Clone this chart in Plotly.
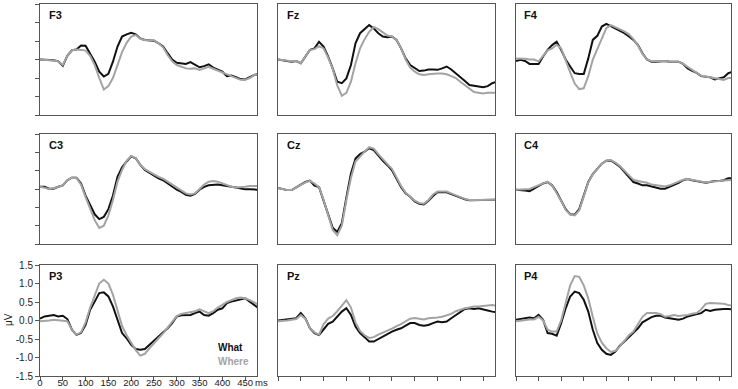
import plotly.graph_objects as go

t = list(range(0, 481, 10))

f3_what = [0.0, 0.0, 0.0, -0.02, -0.05, -0.17, 0.1, 0.25, 0.27, 0.38, 0.37, 0.17, -0.06, -0.33, -0.46, -0.39, -0.06, 0.35, 0.62, 0.68, 0.72, 0.68, 0.57, 0.53, 0.53, 0.51, 0.44, 0.35, 0.17, 0.0, -0.09, -0.1, -0.12, -0.07, -0.15, -0.21, -0.18, -0.13, -0.22, -0.28, -0.33, -0.45, -0.43, -0.48, -0.53, -0.54, -0.48, -0.42, -0.39]
f3_where = [0.0, 0.0, -0.02, -0.03, -0.05, -0.15, 0.1, 0.25, 0.27, 0.26, 0.24, 0.1, -0.15, -0.5, -0.81, -0.72, -0.5, -0.15, 0.2, 0.45, 0.62, 0.66, 0.56, 0.53, 0.53, 0.52, 0.44, 0.33, 0.12, -0.05, -0.15, -0.2, -0.24, -0.25, -0.24, -0.28, -0.24, -0.2, -0.25, -0.3, -0.34, -0.4, -0.44, -0.49, -0.55, -0.55, -0.5, -0.42, -0.4]

fz_what = [0.0, -0.01, -0.04, -0.06, -0.04, -0.1, 0.08, 0.26, 0.3, 0.48, 0.35, 0.08, -0.24, -0.6, -0.64, -0.51, -0.15, 0.44, 0.71, 0.82, 0.93, 0.84, 0.71, 0.62, 0.6, 0.62, 0.53, 0.3, 0.03, -0.15, -0.24, -0.31, -0.3, -0.27, -0.27, -0.28, -0.24, -0.19, -0.27, -0.37, -0.46, -0.58, -0.69, -0.72, -0.73, -0.75, -0.72, -0.64, -0.6]
fz_where = [0.0, -0.02, -0.04, -0.05, -0.04, -0.1, 0.08, 0.26, 0.28, 0.36, 0.3, 0.05, -0.25, -0.7, -0.98, -0.9, -0.6, -0.1, 0.3, 0.55, 0.75, 0.88, 0.82, 0.73, 0.65, 0.62, 0.53, 0.3, 0.0, -0.22, -0.33, -0.4, -0.42, -0.4, -0.38, -0.38, -0.38, -0.4, -0.45, -0.5, -0.6, -0.7, -0.8, -0.88, -0.9, -0.92, -0.9, -0.9, -0.9]

f4_what = [-0.04, -0.01, -0.04, -0.12, -0.12, -0.12, 0.08, 0.26, 0.39, 0.48, 0.26, 0.0, -0.19, -0.37, -0.39, -0.39, 0.03, 0.53, 0.64, 0.89, 0.96, 0.9, 0.84, 0.78, 0.71, 0.62, 0.53, 0.39, 0.17, 0.0, -0.06, -0.06, -0.04, -0.04, -0.06, -0.06, -0.06, -0.12, -0.24, -0.31, -0.36, -0.45, -0.46, -0.48, -0.54, -0.51, -0.48, -0.37, -0.33]
f4_where = [0.03, 0.03, 0.02, 0.0, 0.0, -0.05, 0.1, 0.25, 0.3, 0.4, 0.3, -0.05, -0.35, -0.65, -0.8, -0.78, -0.45, 0.0, 0.3, 0.6, 0.85, 0.93, 0.88, 0.82, 0.76, 0.68, 0.55, 0.38, 0.15, 0.0, -0.05, -0.05, -0.04, -0.04, -0.06, -0.06, -0.06, -0.12, -0.2, -0.3, -0.38, -0.44, -0.46, -0.48, -0.5, -0.53, -0.55, -0.5, -0.5]

c3_what = [0.06, 0.06, 0.01, 0.01, 0.06, 0.1, 0.24, 0.31, 0.31, 0.15, -0.18, -0.45, -0.69, -0.82, -0.76, -0.55, -0.18, 0.33, 0.59, 0.75, 0.89, 0.84, 0.66, 0.52, 0.44, 0.38, 0.29, 0.24, 0.15, 0.06, -0.02, -0.08, -0.16, -0.18, -0.13, -0.02, 0.06, 0.1, 0.12, 0.12, 0.1, 0.07, 0.06, 0.04, 0.01, -0.01, -0.01, -0.02, -0.02]
c3_where = [0.06, 0.04, 0.0, 0.02, 0.06, 0.1, 0.24, 0.31, 0.3, 0.12, -0.22, -0.55, -0.85, -1.06, -1.0, -0.72, -0.3, 0.2, 0.52, 0.77, 0.9, 0.84, 0.66, 0.54, 0.46, 0.4, 0.33, 0.28, 0.2, 0.12, 0.05, -0.04, -0.12, -0.15, -0.12, 0.0, 0.12, 0.2, 0.22, 0.2, 0.15, 0.1, 0.06, 0.04, 0.04, 0.06, 0.08, 0.08, 0.08]

cz_what = [0.03, 0.0, -0.03, -0.03, 0.05, 0.11, 0.19, 0.23, 0.09, 0.05, -0.32, -0.74, -1.06, -1.17, -0.93, -0.23, 0.42, 0.83, 0.95, 1.02, 1.11, 1.06, 0.9, 0.77, 0.65, 0.51, 0.28, 0.05, -0.12, -0.21, -0.34, -0.4, -0.42, -0.32, -0.19, -0.09, -0.09, -0.09, -0.14, -0.19, -0.23, -0.28, -0.31, -0.31, -0.31, -0.31, -0.31, -0.29, -0.29]
cz_where = [0.03, 0.0, -0.03, -0.03, 0.05, 0.11, 0.18, 0.22, 0.15, 0.05, -0.3, -0.7, -1.12, -1.26, -1.0, -0.3, 0.3, 0.75, 0.9, 1.02, 1.14, 1.1, 0.95, 0.8, 0.68, 0.55, 0.32, 0.08, -0.1, -0.2, -0.32, -0.38, -0.4, -0.3, -0.15, -0.07, -0.06, -0.07, -0.12, -0.18, -0.22, -0.27, -0.3, -0.3, -0.3, -0.3, -0.3, -0.29, -0.29]

c4_what = [-0.02, -0.02, -0.04, -0.06, 0.01, 0.1, 0.15, 0.19, 0.1, -0.08, -0.31, -0.55, -0.69, -0.7, -0.55, -0.18, 0.19, 0.41, 0.56, 0.69, 0.77, 0.78, 0.7, 0.61, 0.47, 0.33, 0.19, 0.15, 0.1, 0.1, 0.07, 0.03, 0.01, 0.01, 0.06, 0.13, 0.17, 0.24, 0.27, 0.24, 0.22, 0.19, 0.17, 0.19, 0.22, 0.22, 0.24, 0.29, 0.29]
c4_where = [-0.02, -0.02, -0.01, 0.0, 0.05, 0.1, 0.15, 0.2, 0.1, -0.1, -0.33, -0.57, -0.7, -0.72, -0.58, -0.2, 0.18, 0.4, 0.56, 0.69, 0.77, 0.79, 0.72, 0.63, 0.5, 0.36, 0.25, 0.22, 0.2, 0.17, 0.12, 0.1, 0.08, 0.07, 0.1, 0.15, 0.2, 0.25, 0.27, 0.25, 0.23, 0.2, 0.18, 0.2, 0.22, 0.22, 0.23, 0.25, 0.25]

p3_what = [0.05, 0.11, 0.13, 0.15, 0.11, 0.13, 0.04, -0.25, -0.39, -0.34, -0.12, 0.29, 0.51, 0.74, 0.76, 0.65, 0.38, 0.02, -0.34, -0.48, -0.66, -0.77, -0.79, -0.77, -0.66, -0.54, -0.45, -0.34, -0.21, -0.07, 0.11, 0.14, 0.14, 0.15, 0.2, 0.24, 0.15, 0.13, 0.2, 0.29, 0.33, 0.47, 0.51, 0.54, 0.58, 0.6, 0.51, 0.42, 0.33]
p3_where = [-0.02, -0.02, 0.0, 0.02, 0.0, 0.0, -0.02, -0.25, -0.38, -0.32, -0.05, 0.35, 0.7, 1.0, 1.1, 1.0, 0.7, 0.25, -0.15, -0.4, -0.6, -0.8, -0.95, -0.9, -0.75, -0.6, -0.48, -0.35, -0.2, -0.05, 0.12, 0.18, 0.2, 0.22, 0.25, 0.3, 0.25, 0.2, 0.25, 0.35, 0.42, 0.5, 0.55, 0.6, 0.62, 0.6, 0.55, 0.48, 0.42]

pz_what = [0.0, 0.02, 0.02, 0.04, 0.06, 0.2, 0.06, -0.21, -0.34, -0.39, -0.23, -0.09, -0.03, 0.11, 0.24, 0.33, 0.15, -0.16, -0.34, -0.45, -0.57, -0.57, -0.5, -0.45, -0.36, -0.3, -0.25, -0.21, -0.14, -0.07, -0.07, -0.12, -0.14, -0.12, -0.07, -0.03, -0.05, -0.03, 0.06, 0.15, 0.24, 0.31, 0.33, 0.31, 0.33, 0.29, 0.27, 0.24, 0.22]
pz_where = [-0.02, -0.02, 0.0, 0.02, 0.04, 0.15, 0.05, -0.2, -0.32, -0.38, -0.1, 0.05, 0.12, 0.25, 0.4, 0.55, 0.35, -0.05, -0.28, -0.4, -0.47, -0.45, -0.38, -0.33, -0.27, -0.22, -0.15, -0.1, -0.02, 0.05, 0.07, 0.04, 0.03, 0.06, 0.06, 0.08, 0.1, 0.13, 0.18, 0.25, 0.3, 0.33, 0.35, 0.38, 0.38, 0.4, 0.42, 0.42, 0.4]

p4_what = [0.02, 0.04, 0.06, 0.08, 0.06, 0.15, 0.02, -0.34, -0.36, -0.41, -0.07, 0.33, 0.65, 0.78, 0.74, 0.56, 0.24, -0.25, -0.61, -0.79, -0.9, -0.93, -0.84, -0.68, -0.57, -0.45, -0.34, -0.21, -0.05, 0.02, 0.09, 0.13, 0.13, 0.08, 0.06, 0.04, 0.02, 0.05, 0.11, 0.14, 0.18, 0.2, 0.29, 0.26, 0.29, 0.31, 0.31, 0.31, 0.3]
p4_where = [-0.02, 0.0, 0.02, 0.03, 0.03, 0.1, 0.0, -0.25, -0.3, -0.3, 0.0, 0.5, 0.95, 1.2, 1.18, 0.95, 0.6, 0.1, -0.35, -0.6, -0.75, -0.85, -0.82, -0.7, -0.55, -0.4, -0.3, -0.1, 0.1, 0.2, 0.2, 0.2, 0.17, 0.1, 0.12, 0.15, 0.12, 0.13, 0.15, 0.18, 0.2, 0.3, 0.45, 0.47, 0.47, 0.47, 0.45, 0.42, 0.4]

panel_names = ["F3", "Fz", "F4", "C3", "Cz", "C4", "P3", "Pz", "P4"]
what_series = [f3_what, fz_what, f4_what, c3_what, cz_what, c4_what, p3_what, pz_what, p4_what]
where_series = [f3_where, fz_where, f4_where, c3_where, cz_where, c4_where, p3_where, pz_where, p4_where]

x_tickvals = [0, 50, 100, 150, 200, 250, 300, 350, 400, 450]
x_ticktext = ["0", "50", "100", "150", "200", "250", "300", "350", "400", "450"]
x_unit = "ms"
y_tickvals = [-1.5, -1.0, -0.5, 0.0, 0.5, 1.0, 1.5]
y_ticktext = ["-1.5", "-1.0", "-0.5", "0.0", "0.5", "1.0", "1.5"]

W, H = 738, 389
col_px = [(40, 257), (278, 495), (516, 731)]
row_px = [(4, 115), (134, 244), (265, 376)]

BLACK = "#111111"
GRAY = "#a3a3a3"
FONT = "Liberation Sans, Arial, sans-serif"
TXT = "#222222"

fig = go.Figure()
layout = dict(
    width=W, height=H, margin=dict(l=0, r=0, t=0, b=0, autoexpand=False),
    paper_bgcolor="white", plot_bgcolor="white", showlegend=False,
    font=dict(family=FONT, size=10, color=TXT),
)
annotations = []

for i, name in enumerate(panel_names):
    r, c = divmod(i, 3)
    n = "" if i == 0 else str(i + 1)
    xa, ya = "x" + n, "y" + n
    fig.add_trace(go.Scatter(x=t, y=what_series[i], mode="lines", xaxis=xa, yaxis=ya,
                             line=dict(color=BLACK, width=2), name="What"))
    fig.add_trace(go.Scatter(x=t, y=where_series[i], mode="lines", xaxis=xa, yaxis=ya,
                             line=dict(color=GRAY, width=2), name="Where"))
    x0, x1 = col_px[c]
    y0, y1 = row_px[r]
    bottom = (r == 2)
    left = (c == 0)
    layout["xaxis" + n] = dict(
        domain=[x0 / W, x1 / W], range=[0, 476], anchor=ya, automargin=False,
        showline=True, mirror=True, linecolor="#555", linewidth=1,
        showgrid=False, zeroline=False,
        ticks="outside" if bottom else "", ticklen=4, tickcolor="#555",
        tickvals=x_tickvals, ticktext=x_ticktext, tickangle=0,
        ticklabelstandoff=-6,
        showticklabels=(bottom and left),
        tickfont=dict(family=FONT, size=9.5, color=TXT),
    )
    layout["yaxis" + n] = dict(
        domain=[1 - y1 / H, 1 - y0 / H], range=[-1.5, 1.5], anchor=xa, automargin=False,
        showline=True, mirror=True, linecolor="#555", linewidth=1,
        showgrid=False, zeroline=False,
        ticks="outside" if left else "", ticklen=4, tickcolor="#555",
        tickvals=y_tickvals, ticktext=y_ticktext,
        showticklabels=(bottom and left),
        tickfont=dict(family=FONT, size=10, color=TXT),
    )
    annotations.append(dict(
        text="<b>%s</b>" % name, xref=xa + " domain", yref=ya + " domain",
        x=0.03, y=0.97, xanchor="left", yanchor="top", showarrow=False,
        font=dict(family=FONT, size=11, color="#111"),
    ))

# unit suffix following the last x tick label
annotations.append(dict(text=x_unit, xref="x7", yref="paper", x=468, y=1 - 382 / H,
                        xanchor="left", yanchor="middle", showarrow=False,
                        font=dict(family=FONT, size=9.5, color=TXT)))
annotations.append(dict(text="<b>What</b>", xref="x7 domain", yref="y7 domain",
                        x=0.81, y=0.255, xanchor="left", yanchor="middle", showarrow=False,
                        font=dict(family=FONT, size=10, color=BLACK)))
annotations.append(dict(text="<b>Where</b>", xref="x7 domain", yref="y7 domain",
                        x=0.81, y=0.13, xanchor="left", yanchor="middle", showarrow=False,
                        font=dict(family=FONT, size=10, color=GRAY)))
annotations.append(dict(text="μV", xref="paper", yref="paper", x=8 / W, y=1 - 320 / H,
                        xanchor="center", yanchor="middle", textangle=-90, showarrow=False,
                        font=dict(family=FONT, size=10, color=TXT)))
layout["annotations"] = annotations
fig.update_layout(**layout)
fig.write_html("out.html")
